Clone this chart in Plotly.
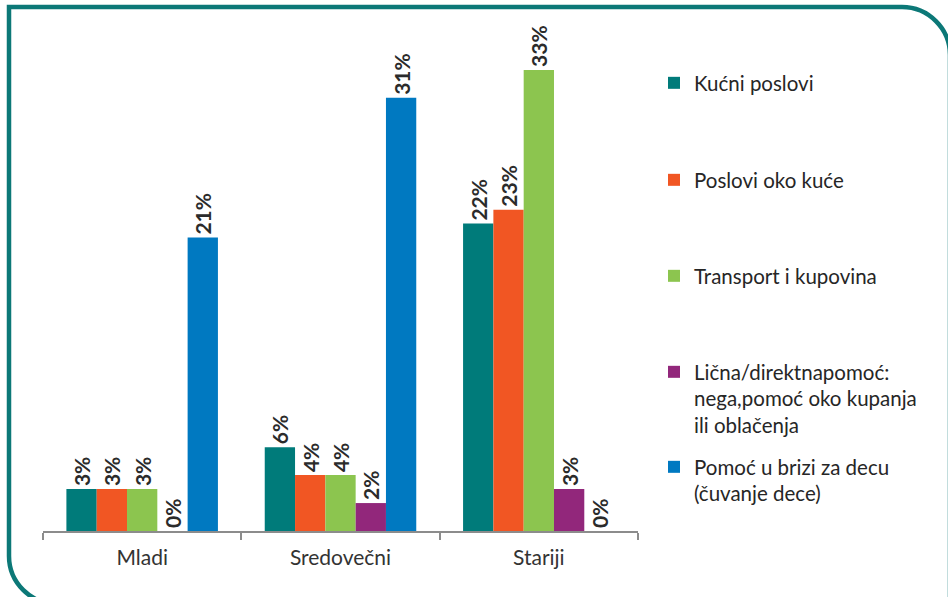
import plotly.graph_objects as go

categories = ["Mladi", "Sredovečni", "Stariji"]
series_names = [
    "Kućni poslovi",
    "Poslovi oko kuće",
    "Transport i kupovina",
    "Lična/direktnapomoć:<br>nega,pomoć oko kupanja<br>ili oblačenja",
    "Pomoć u brizi za decu<br>(čuvanje dece)",
]
kucni_poslovi = [3, 6, 22]
poslovi_oko_kuce = [3, 4, 23]
transport_kupovina = [3, 4, 33]
licna_pomoc = [0, 2, 3]
pomoc_deca = [21, 31, 0]
colors = ["#007b7a", "#f15623", "#8cc54f", "#92277b", "#0079c1"]

values = [kucni_poslovi, poslovi_oko_kuce, transport_kupovina, licna_pomoc, pomoc_deca]

W, H = 948, 597
L, R, T, B = 43, 310, 28, 66
FONT = "Lato"

fig = go.Figure()
legend_keys = ["legend", "legend2", "legend3", "legend4", "legend5"]
for name, vals, col, lk in zip(series_names, values, colors, legend_keys):
    fig.add_trace(go.Bar(
        x=categories, y=vals, name=name,
        marker=dict(color=col, line=dict(width=0)),
        texttemplate="%{y}%", textposition="outside", textangle=-90,
        textfont=dict(family=FONT, size=21, color="#2b2b2b", weight="bold"),
        constraintext="none", cliponaxis=False,
        legend=lk,
    ))

# legend placement (top of first text line, in pixels)
legend_tops = [70, 167, 263, 359, 454]
leg_common = dict(
    xref="container", yref="container", x=654 / W, xanchor="left", yanchor="top",
    font=dict(family=FONT, size=20.5, color="#262626"), valign="top",
    bgcolor="rgba(0,0,0,0)", borderwidth=0, itemclick=False,
)
leg_layout = {}
for lk, top in zip(legend_keys, legend_tops):
    leg_layout[lk] = dict(leg_common, y=1 - (top - 7) / H)


def px(x):
    return (x - L) / (W - L - R)


def py(y):
    return (H - B - y) / (H - T - B)


# rounded frame (top-right and bottom-left corners rounded)
k = 0.55
r = 48
xr, yt, xl, yb = 950, 7, 9, 604
path = (
    f"M {px(xr)},{py(660)} L {px(xr)},{py(yt + r)} "
    f"C {px(xr)},{py(yt + r - k * r)} {px(xr - r + k * r)},{py(yt)} {px(xr - r)},{py(yt)} "
    f"L {px(xl)},{py(yt)} L {px(xl)},{py(yb - r)} "
    f"C {px(xl)},{py(yb - r + k * r)} {px(xl + r - k * r)},{py(yb)} {px(xl + r)},{py(yb)} "
    f"L {px(1000)},{py(yb)}"
)

fig.update_layout(
    width=W, height=H,
    margin=dict(l=L, r=R, t=T, b=B),
    paper_bgcolor="white", plot_bgcolor="white",
    barmode="group", bargap=0.236, bargroupgap=0,
    showlegend=True,
    font=dict(family=FONT, color="#333333"),
    shapes=[dict(type="path", xref="paper", yref="paper", path=path,
                 line=dict(color="#0c7877", width=4.5), fillcolor="rgba(0,0,0,0)",
                 layer="above")],
    xaxis=dict(
        type="category", range=[-0.5, 2.5], showline=True, linecolor="#8c8c8c", linewidth=1.5,
        ticks="outside", tickson="boundaries", ticklen=7, tickcolor="#8c8c8c", tickwidth=1.5,
        tickfont=dict(family=FONT, size=21, color="#333333"), showgrid=False,
        ticklabelstandoff=7,
    ),
    yaxis=dict(range=[0, 36], visible=False, showgrid=False, zeroline=False),
    **leg_layout,
)

fig.write_html(
    "out.html",
    config={"displayModeBar": False},
    post_script="document.body.style.margin='0';document.body.style.overflow='hidden';",
)
